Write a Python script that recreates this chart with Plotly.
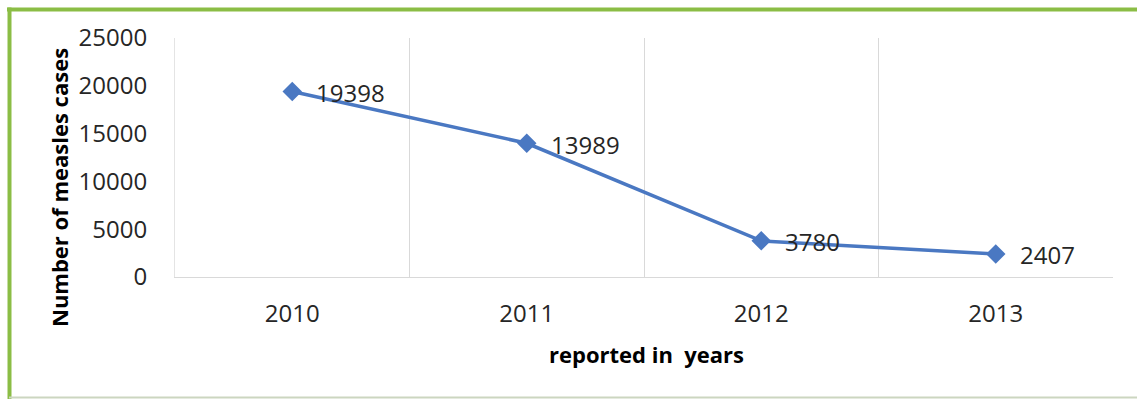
import plotly.graph_objects as go

# Reported measles cases per year
years = ["2010", "2011", "2012", "2013"]
cases = [19398, 13989, 3780, 2407]
y_ticks = [0, 5000, 10000, 15000, 20000, 25000]

W, H = 1137, 400
ML, MR, MT, MB = 175, 24, 38, 123
PW, PH = W - ML - MR, H - MT - MB

LINE_BLUE = "#4a78c2"
FONT = "Open Sans"


def px_x(px):
    return (px - ML) / PW


def px_y(py):
    return (H - MB - py) / PH


fig = go.Figure()
fig.add_trace(go.Scatter(
    x=years, y=cases, mode="lines+markers",
    line=dict(color=LINE_BLUE, width=3.5),
    marker=dict(symbol="diamond", size=15, color=LINE_BLUE),
    hoverinfo="skip", showlegend=False,
))

# value labels to the right of each point (x given as category position)
for i, v in enumerate(cases):
    fig.add_annotation(
        x=i, y=v, xref="x", yref="y", text=str(v), showarrow=False,
        xanchor="left", yanchor="middle", xshift=22, yshift=-1,
        font=dict(family=FONT, size=24, color="#262626"),
    )

# axis titles
fig.add_annotation(
    x=px_x(59), y=px_y(188), xref="paper", yref="paper",
    text="<b>Number of measles cases</b>", textangle=-90, showarrow=False,
    xanchor="center", yanchor="middle",
    font=dict(family=FONT, size=22, color="#000000"),
)
fig.add_annotation(
    x=px_x(646), y=px_y(354), xref="paper", yref="paper",
    text="<b>reported in  years</b>", showarrow=False,
    xanchor="center", yanchor="middle",
    font=dict(family=FONT, size=22, color="#000000"),
)

# green frame around the chart
frame = [
    dict(x0=px_x(7), x1=px_x(W + 2), y0=px_y(9.5), y1=px_y(9.5), color="#8bbd45", width=4),
    dict(x0=px_x(9.5), x1=px_x(9.5), y0=px_y(7.5), y1=px_y(399), color="#8bbd45", width=4),
    dict(x0=px_x(9), x1=px_x(W + 2), y0=px_y(397.5), y1=px_y(397.5), color="#ccd6c0", width=2),
]
for f in frame:
    fig.add_shape(type="line", xref="paper", yref="paper",
                  x0=f["x0"], x1=f["x1"], y0=f["y0"], y1=f["y1"],
                  line=dict(color=f["color"], width=f["width"]), layer="above")

fig.update_layout(
    width=W, height=H,
    margin=dict(l=ML, r=MR, t=MT, b=MB),
    paper_bgcolor="white", plot_bgcolor="white",
    font=dict(family=FONT, color="#262626"),
    xaxis=dict(
        type="category", range=[-0.5, 3.5],
        tickson="boundaries", ticks="",
        showgrid=True, gridcolor="#d9d9d9", gridwidth=1,
        showline=True, linecolor="#d9d9d9", linewidth=1,
        ticklabelstandoff=15,
        tickfont=dict(family=FONT, size=24, color="#262626"),
        zeroline=False,
    ),
    yaxis=dict(
        range=[0, 25000], tickvals=y_ticks, ticktext=[str(t) for t in y_ticks],
        showgrid=False, zeroline=False,
        showline=True, linecolor="#e4e4e4", linewidth=1,
        ticks="", ticklabelstandoff=22,
        tickfont=dict(family=FONT, size=24, color="#262626"),
    ),
)

fig.write_html("out.html")
